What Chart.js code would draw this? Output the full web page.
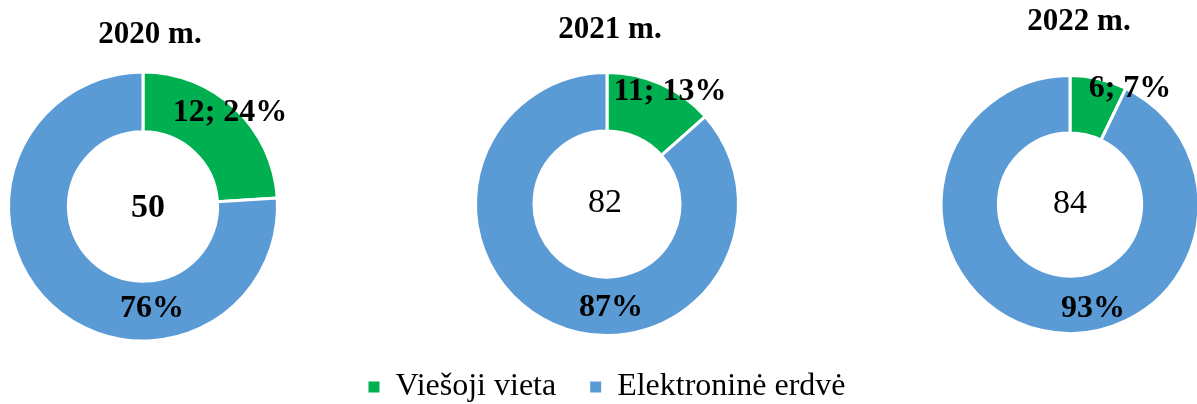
<!DOCTYPE html>
<html>
<head>
<meta charset="utf-8">
<script src="https://cdn.jsdelivr.net/npm/chart.js@4.4.1/dist/chart.umd.min.js"></script>
<style>
  html, body { margin: 0; padding: 0; background: #fff; overflow: hidden; }
  #wrap { position: relative; width: 1197px; height: 404px; overflow: hidden; }
  canvas { position: absolute; top: 0; }
</style>
</head>
<body>
<div id="wrap">
  <canvas id="c2020" width="300" height="404" style="left:0"></canvas>
  <canvas id="c2022" width="400" height="404" style="left:900px"></canvas>
  <canvas id="c2021" width="1197" height="404" style="left:0"></canvas>
</div>
<script>
const categories = ['Viešoji vieta', 'Elektroninė erdvė'];
const years = ['2020 m.', '2021 m.', '2022 m.'];
const publicPlace = [12, 11, 6];
const electronic = [38, 71, 78];

const colors = ['#00B050', '#5B9BD5'];
const serif = '"Liberation Serif", "Times New Roman", serif';

Chart.defaults.font.family = serif;
Chart.defaults.color = '#000';

// draws the year title, the slice labels and the total in the hole
const ringLabels = {
  id: 'ringLabels',
  afterDatasetsDraw(chart, args, opts) {
    const ctx = chart.ctx;
    const arcs = chart.getDatasetMeta(0).data;
    const cx = arcs[0].x, cy = arcs[0].y;
    const vals = chart.data.datasets[0].data;
    const total = vals.reduce((a, b) => a + b, 0);

    ctx.save();
    ctx.fillStyle = '#000';
    ctx.textAlign = 'center';
    ctx.textBaseline = 'middle';

    ctx.font = 'bold 31px ' + serif;
    ctx.fillText(opts.title, cx + opts.titleAt[0], opts.titleAt[1]);

    vals.forEach((v, i) => {
      const pct = Math.round(v / total * 100) + '%';
      const txt = i === 0 ? v + '; ' + pct : pct;
      const off = opts.labelAt[i];
      ctx.font = 'bold 32px ' + serif;
      ctx.fillText(txt, cx + off[0], cy + off[1]);
    });

    ctx.font = (opts.boldTotal ? 'bold ' : '') + '34px ' + serif;
    ctx.fillText(String(total), cx + opts.totalAt[0], cy + opts.totalAt[1]);
    ctx.restore();
  }
};

function makeRing(id, i, padding, labelOpts, withLegend) {
  return new Chart(document.getElementById(id), {
    type: 'doughnut',
    data: {
      labels: categories,
      datasets: [{
        data: [publicPlace[i], electronic[i]],
        backgroundColor: colors,
        borderColor: '#fff',
        borderWidth: 3
      }]
    },
    options: {
      responsive: false,
      animation: false,
      cutout: '55.5%',
      layout: { padding: padding },
      events: [],
      plugins: {
        tooltip: { enabled: false },
        legend: withLegend ? {
          display: true,
          position: 'bottom',
          maxHeight: 67,
          labels: {
            boxWidth: 11,
            boxHeight: 11,
            padding: 34,
            font: { size: 32, family: serif },
            color: '#000',
            generateLabels(chart) {
              return Chart.overrides.doughnut.plugins.legend.labels
                .generateLabels(chart).map(l => ({ ...l, lineWidth: 0 }));
            }
          }
        } : { display: false },
        ringLabels: labelOpts
      }
    },
    plugins: [ringLabels]
  });
}

makeRing('c2020', 0, { left: 7, right: 21, top: 70.5, bottom: 61.5 }, {
  title: years[0], titleAt: [7, 35],
  labelAt: [[87, -93.5], [9, 102.5]],
  totalAt: [5, 2], boldTotal: true
}, false);

makeRing('c2021', 1, { left: 200, right: 183, top: 71, bottom: 0 }, {
  title: years[1], titleAt: [3, 30],
  labelAt: [[63, -112], [4, 104]],
  totalAt: [-2, -1], boldTotal: false
}, true);

makeRing('c2022', 2, { left: 39.5, right: 99.5, top: 74, bottom: 69 }, {
  title: years[2], titleAt: [9, 22],
  labelAt: [[60, -116], [23, 104]],
  totalAt: [0, 0], boldTotal: false
}, false);
</script>
</body>
</html>
